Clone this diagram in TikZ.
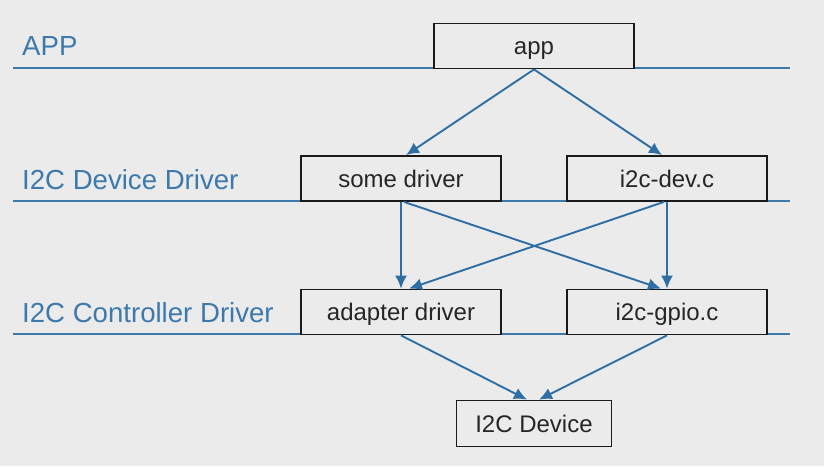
\documentclass[tikz,border=0pt]{standalone}
\usepackage{fontspec}
\setmainfont{Liberation Sans}
\usetikzlibrary{arrows.meta}
\definecolor{bgc}{HTML}{EBEBEB}
\definecolor{layerblue}{HTML}{3E79AB}
\definecolor{arrowblue}{HTML}{2F6EA5}
\definecolor{boxline}{HTML}{1A1A1A}
\tikzset{
  layerline/.style={draw=layerblue, line width=1.8pt},
  layerlabel/.style={text=layerblue, anchor=base west, inner sep=0pt, font=\fontsize{27.6}{32}\selectfont},
  blk/.style={draw=boxline, fill=bgc, line width=1.8pt, minimum width=200pt, minimum height=45pt, inner sep=0pt, text height=17.5pt, text depth=0pt, font=\fontsize{24}{28}\selectfont, text=black!85},
  flow/.style={draw=arrowblue, line width=1.9pt, -{Latex[length=13pt,width=12pt]}}
}
\begin{document}
\begin{tikzpicture}[x=1pt,y=-1pt]
\useasboundingbox[fill=bgc] (0,0) rectangle (824,466);
% layer lines
\coordinate (l1a) at (13,68); \coordinate (l1b) at (790,68);
\coordinate (l2a) at (13,201); \coordinate (l2b) at (790,201);
\coordinate (l3a) at (13,334); \coordinate (l3b) at (790,334);
\draw[layerline] (l1a) -- (l1b);
\draw[layerline] (l2a) -- (l2b);
\draw[layerline] (l3a) -- (l3b);
% labels
\node[layerlabel] (lapp) at (22,55) {APP};
\node[layerlabel] (ldev) at (22,189) {I2C Device Driver};
\node[layerlabel] (lctl) at (22,322) {I2C Controller Driver};
% boxes
\node[blk] (app) at (534,46) {app};
\node[blk] (sd) at (401,178.5) {some driver};
\node[blk] (idev) at (667,178.5) {i2c-dev.c};
\node[blk] (adp) at (401,312) {adapter driver};
\node[blk] (gpio) at (667,312) {i2c-gpio.c};
\node[blk, minimum width=155pt, minimum height=46pt] (dev) at (534,423.5) {I2C Device};
% arrows
\draw[flow] (app.south) -- ([xshift=5pt]sd.north);
\draw[flow] (app.south) -- ([xshift=-5pt]idev.north);
\draw[flow] (sd.south) -- (adp.north);
\draw[flow] ([xshift=3pt]sd.south) -- ([xshift=-6pt]gpio.north);
\draw[flow] (idev.south) -- (gpio.north);
\draw[flow] ([xshift=-3pt]idev.south) -- ([xshift=8pt]adp.north);
\draw[flow] (adp.south) -- ([xshift=-7pt]dev.north);
\draw[flow] (gpio.south) -- ([xshift=5pt]dev.north);
\end{tikzpicture}
\end{document}
